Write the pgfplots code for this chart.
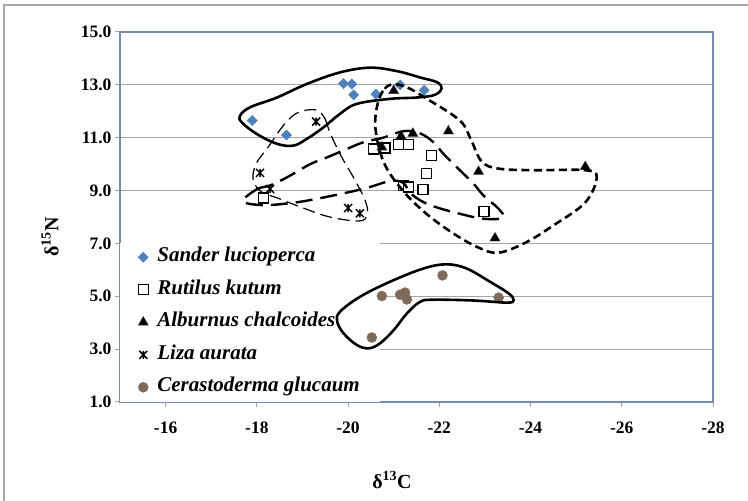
\documentclass[border=0pt]{standalone}
\usepackage{fontspec}
\setmainfont{Liberation Serif}
\usepackage{pgfplots}
\pgfplotsset{compat=1.18}

\definecolor{sanderblue}{RGB}{79,129,189}
\definecolor{cockle}{RGB}{128,106,90}
\definecolor{gridgray}{RGB}{165,165,165}
\definecolor{frameblue}{RGB}{120,140,175}

% Excel "star" marker: an x crossed by a vertical bar
\pgfdeclareplotmark{xstar}{%
  \pgfpathmoveto{\pgfqpoint{-\pgfplotmarksize}{-\pgfplotmarksize}}%
  \pgfpathlineto{\pgfqpoint{\pgfplotmarksize}{\pgfplotmarksize}}%
  \pgfpathmoveto{\pgfqpoint{-\pgfplotmarksize}{\pgfplotmarksize}}%
  \pgfpathlineto{\pgfqpoint{\pgfplotmarksize}{-\pgfplotmarksize}}%
  \pgfpathmoveto{\pgfqpoint{0pt}{-\pgfplotmarksize}}%
  \pgfpathlineto{\pgfqpoint{0pt}{\pgfplotmarksize}}%
  \pgfusepathqstroke}

\begin{document}
\begin{tikzpicture}
\begin{axis}[
  set layers,
  at={(120pt,99pt)}, anchor=south west,
  scale only axis, width=593pt, height=370pt,
  xmin=-28, xmax=-15, x dir=reverse,
  ymin=1, ymax=15,
  xtick={-28,-26,...,-16},
  ytick={1,3,...,15},
  ymajorgrids,
  grid style={gridgray, line width=1pt},
  axis line style={frameblue, line width=1.3pt},
  tick align=outside, tick pos=left,
  major tick length=5pt,
  tick style={gridgray, line width=1pt},
  /pgf/number format/assume math mode=true,
  ticklabel style={font=\fontsize{17.5}{20}\selectfont\bfseries},
  yticklabel style={/pgf/number format/fixed, /pgf/number format/fixed zerofill, /pgf/number format/precision=1},
  xticklabel style={yshift=-11pt},
  xlabel={δ\textsuperscript{13}C},
  ylabel={δ\textsuperscript{15}N},
  label style={font=\fontsize{20}{24}\selectfont\bfseries},
  xlabel style={at={(axis description cs:0.4587,-0.2108)}, anchor=center},
  ylabel style={at={(axis description cs:-0.118,0.446)}, anchor=center},
  legend cell align=left,
  legend image code/.code={\draw[mark repeat=2,mark phase=2,#1] plot coordinates {(0pt,0pt)(5pt,0pt)(10pt,0pt)};},
  legend style={at={(0,0)}, anchor=south west, draw=none, fill=white,
    inner xsep=18pt, inner ysep=3pt, row sep=9.5pt, column sep=7pt,
    font=\fontsize{21}{24}\selectfont\bfseries\itshape,
    nodes={inner sep=2pt, text height=14pt, text depth=5pt}},
  every axis plot/.append style={on layer=axis foreground},
  mark layer=axis foreground,
]
% Sander lucioperca
\addplot[only marks, mark=square*, mark size=3.6pt, mark options={rotate=45, fill=sanderblue, draw=sanderblue}]
  coordinates {(-17.9,11.65) (-18.65,11.1) (-19.9,13.05) (-20.08,13.03) (-20.12,12.62) (-20.61,12.65) (-21.14,13.0) (-21.67,12.8)};
% Rutilus kutum
\addplot[only marks, mark=square*, mark size=5pt, mark options={fill=white, draw=black, line width=1.4pt}]
  coordinates {(-18.14,8.72) (-20.56,10.57) (-20.81,10.61) (-21.1,10.74) (-21.32,10.74) (-21.83,10.32) (-21.72,9.65) (-21.22,9.2) (-21.32,9.13) (-21.64,9.03) (-22.98,8.2)};
% Alburnus chalcoides
\addplot[only marks, mark=triangle*, mark size=5.8pt, mark options={fill=black, draw=black!80!olive}]
  coordinates {(-21.0,12.78) (-20.74,10.64) (-21.16,11.06) (-21.42,11.16) (-22.2,11.25) (-22.86,9.72) (-25.2,9.9) (-23.22,7.2)};
% Liza aurata
\addplot[only marks, mark=xstar, mark size=4pt, mark options={draw=black, line width=1.5pt}]
  coordinates {(-19.3,11.61) (-18.07,9.67) (-18.29,9.06) (-20.0,8.34) (-20.26,8.14)};
% Cerastoderma glucaum
\addplot[only marks, mark=*, mark size=5pt, mark options={fill=cockle, draw=cockle}]
  coordinates {(-22.07,5.79) (-20.74,5.01) (-21.14,5.06) (-21.25,5.14) (-21.29,4.88) (-23.3,4.95) (-20.52,3.44)};
\legend{Sander lucioperca, Rutilus kutum, Alburnus chalcoides, Liza aurata, Cerastoderma glucaum}

% hand-drawn group outlines
\addplot[forget plot, black, line width=2.6pt, smooth cycle, tension=0.6]
  coordinates {(-17.63,11.83) (-17.85,12.15) (-18.44,12.52) (-19.09,13.03) (-19.82,13.47) (-20.48,13.65) (-21.07,13.52) (-21.6,13.27) (-21.95,13.1) (-22.05,12.87) (-21.9,12.62) (-21.5,12.52) (-20.92,12.47) (-20.19,12.28) (-19.82,11.9) (-19.46,11.39) (-19.09,10.95) (-18.8,10.7) (-18.44,10.77) (-18.0,11.14) (-17.67,11.58)};
\addplot[forget plot, black, line width=2.6pt, smooth cycle, tension=0.6]
  coordinates {(-19.76,4.05) (-19.82,4.41) (-20.26,4.98) (-20.92,5.55) (-21.65,6.05) (-22.16,6.21) (-22.6,6.05) (-23.11,5.55) (-23.52,5.11) (-23.63,4.85) (-23.48,4.76) (-22.75,4.84) (-21.87,4.87) (-21.58,4.79) (-21.29,4.35) (-21.0,3.72) (-20.7,3.22) (-20.45,3.03) (-20.19,3.16) (-19.9,3.6)};
\addplot[forget plot, black, line width=2.6pt, dash pattern=on 8pt off 4.5pt, smooth cycle, tension=0.6]
  coordinates {(-20.65,12.3) (-20.8,12.85) (-21.0,13.02) (-21.3,12.9) (-21.7,12.5) (-22.45,11.65) (-22.7,10.9) (-22.93,10.1) (-23.3,9.83) (-24.1,9.77) (-25.2,9.77) (-25.45,9.5) (-25.2,8.55) (-24.5,7.68) (-23.9,7.04) (-23.3,6.65) (-22.85,6.85) (-22.27,7.42) (-21.67,8.19) (-21.16,9.08) (-20.78,10.08) (-20.6,11.35)};
\addplot[forget plot, black, line width=2.4pt, dash pattern=on 17pt off 8pt, smooth cycle, tension=0.6]
  coordinates {(-17.7,8.6) (-18.0,9.05) (-18.3,9.2) (-18.66,9.5) (-19.17,10.0) (-19.53,10.25) (-19.97,10.57) (-20.34,10.83) (-20.77,11.0) (-21.0,11.15) (-21.3,11.26) (-21.6,11.15) (-21.87,10.83) (-22.09,10.39) (-22.38,9.89) (-22.75,9.26) (-22.97,8.81) (-23.3,8.31) (-23.4,7.97) (-23.0,7.93) (-22.5,8.1) (-21.8,8.45) (-21.4,8.85) (-21.2,9.3) (-20.9,9.35) (-20.3,9.05) (-19.2,8.65) (-18.6,8.5) (-18.1,8.45)};
\addplot[forget plot, black, line width=1.2pt, dash pattern=on 12pt off 6pt, smooth cycle, tension=0.6]
  coordinates {(-19.3,12.05) (-19.5,11.7) (-19.6,11.2) (-19.85,10.3) (-20.15,9.4) (-20.38,8.6) (-20.42,8.1) (-20.25,7.85) (-19.6,8.0) (-19.0,8.35) (-18.45,8.72) (-18.1,8.95) (-17.92,9.4) (-17.98,10.0) (-18.25,10.65) (-18.6,11.5) (-18.9,11.95)};
\end{axis}
% chart-area frame (only its top and left edges fall inside the image)
\draw[gray!70, line width=1.2pt] (4pt,0pt) -- (4pt,496pt) -- (748pt,496pt);
\pgfresetboundingbox
\path[use as bounding box] (0pt,0pt) rectangle (748pt,501pt);
\end{tikzpicture}
\end{document}
